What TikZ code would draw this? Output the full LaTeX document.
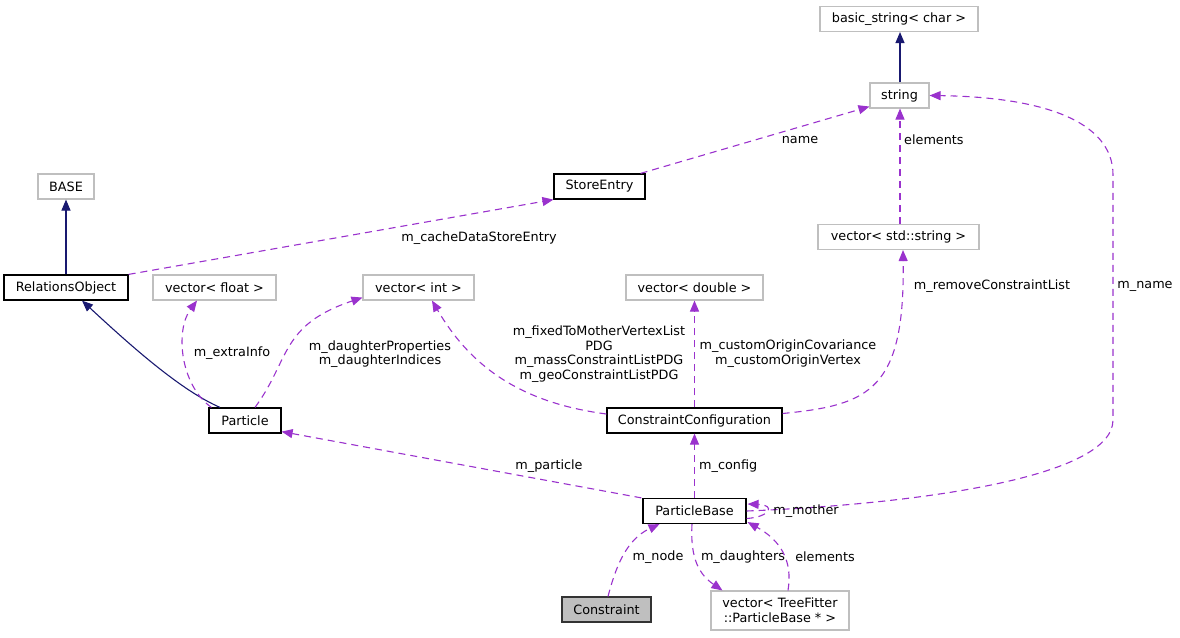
\documentclass[tikz,border=0pt]{standalone}
\usepackage{fontspec}
\setmainfont{DejaVu Sans}
\usetikzlibrary{arrows.meta,calc}
\definecolor{dpurple}{HTML}{9A32CD}
\definecolor{dnavy}{HTML}{191970}
\definecolor{dgray}{HTML}{BFBFBF}
\begin{document}
\begin{tikzpicture}[x=1pt,y=-1pt,
  every node/.style={font=\fontsize{12.8}{14.7}\selectfont, inner sep=0pt},
  cls/.style={draw=black, line width=1.2pt, fill=white, minimum height=25pt},
  ext/.style={draw=dgray, line width=1.1pt, fill=white, minimum height=25pt},
  cur/.style={draw=black!80, line width=1.2pt, fill=dgray, minimum height=25pt},
  inh/.style={draw=dnavy, line width=1.1pt, -{Triangle[length=11pt,width=9pt]}},
  use/.style={draw=dpurple, line width=1.1pt, dash pattern=on 7pt off 5pt, -{Triangle[length=11pt,width=9pt]}},
  lbl/.style={align=center}
]
\useasboundingbox (0,0) rectangle (1180,637);
% nodes
\node[ext, minimum width=158pt] (bs) at (899,19) {basic\_string< char >};
\node[ext, minimum width=59pt] (str) at (899.5,95.5) {string};
\node[ext, minimum width=161pt] (vss) at (898.5,237) {vector< std::string >};
\node[cls, minimum width=91pt] (se) at (599.5,186.5) {StoreEntry};
\node[ext, minimum width=56pt] (base) at (66,186.5) {BASE};
\node[cls, minimum width=124pt] (ro) at (66,287.5) {RelationsObject};
\node[ext, minimum width=123pt] (vf) at (214.5,287.5) {vector< float >};
\node[ext, minimum width=111pt] (vi) at (418.5,287.5) {vector< int >};
\node[ext, minimum width=137pt] (vd) at (694.5,287.5) {vector< double >};
\node[cls, minimum width=72pt] (pa) at (245,420.5) {Particle};
\node[cls, minimum width=175pt] (cc) at (694.5,420.5) {ConstraintConfiguration};
\node[cls, minimum width=103pt] (pb) at (694.5,511) {ParticleBase};
\node[cur, minimum width=89pt] (co) at (606.5,609.5) {Constraint};
\node[ext, minimum width=138pt, minimum height=39pt, align=center] (vtf) at (780,610.5) {vector< TreeFitter\\::ParticleBase * >};
% inheritance
\draw[inh] ($(str.north)+(0.5,0)$) -- ($(bs.south)+(1,0)$);
\draw[inh] (ro.north) -- (base.south);
\draw[inh] ($(pa.north)+(-25,0)$) .. controls (180,390) and (130,345) .. ($(ro.south)+(16,0)$);
% usage
\draw[use] (ro.north east) -- (se.south west);
\node[lbl] (l1) at (479,238) {m\_cacheDataStoreEntry};
\draw[use] ($(se.north east)+(-5,0)$) -- ($(str.south west)+(0,-2)$);
\node[lbl] (l2) at (800,140) {name};
\draw[use] ($(str.south |- vss.north)+(0.5,0)$) -- ($(str.south)+(0.5,0)$);
\node[lbl, anchor=west] (l3) at (904,140) {elements};
\draw[use] ($(cc.east)+(0,-7)$) .. controls (870,405) and (905,390) .. ($(vss.south)+(4.5,0)$);
\node[lbl] (l4) at (992,286) {m\_removeConstraintList};
\draw[use] (cc.north) -- (vd.south);
\node[lbl] (l5) at (788,353.5) {m\_customOriginCovariance\\m\_customOriginVertex};
\draw[use] ($(cc.west)+(0,-6.5)$) .. controls (515,402) and (468,362) .. ($(vi.south)+(13.5,0)$);
\node[lbl] (l6) at (599,354) {m\_fixedToMotherVertexList\\PDG\\m\_massConstraintListPDG\\m\_geoConstraintListPDG};
\draw[use] ($(pa.north west)+(3,0)$) .. controls (180,385) and (175,330) .. ($(vf.south)+(-17.5,0)$);
\node[lbl] (l7) at (232,353) {m\_extraInfo};
\draw[use] ($(pa.north)+(10,0)$) .. controls (290,360) and (280,325) .. ($(vi.south west)+(0,-3)$);
\node[lbl] (l8) at (380,354) {m\_daughterProperties\\m\_daughterIndices};
\draw[use] ($(pb.north west)+(-1,0)$) -- ($(pa.south east)+(0,-2)$);
\node[lbl] (l9) at (549,466) {m\_particle};
\draw[use] (pb.north) -- (cc.south);
\node[lbl, anchor=west] (l10) at (699,466) {m\_config};
\draw[use] (pb.east) .. controls (900,505) and (1113,480) .. (1113,420) -- (1113,175) .. controls (1113,120) and (1040,97) .. (str.east);
\node[lbl] (l11) at (1145,286) {m\_name};
\draw[use] ($(pb.east)+(0,7.5)$) .. controls (770,517) and (776,505) .. ($(pb.east)+(1,-7)$);
\node[lbl] (l12) at (806,511) {m\_mother};
\draw[use] ($(co.north)+(1.5,0)$) .. controls (615,570) and (625,540) .. ($(pb.south)+(-35,0)$);
\node[lbl] (l13) at (658,557) {m\_node};
\draw[use] ($(pb.south)+(-2.5,0)$) .. controls (690,560) and (700,575) .. ($(vtf.north west)+(12,0)$);
\node[lbl] (l14) at (743,557) {m\_daughters};
\draw[use] ($(vtf.north)+(8,0)$) .. controls (793,560) and (780,540) .. ($(pb.south east)+(1,-2)$);
\node[lbl] (l15) at (825,557) {elements};
\end{tikzpicture}
\end{document}
